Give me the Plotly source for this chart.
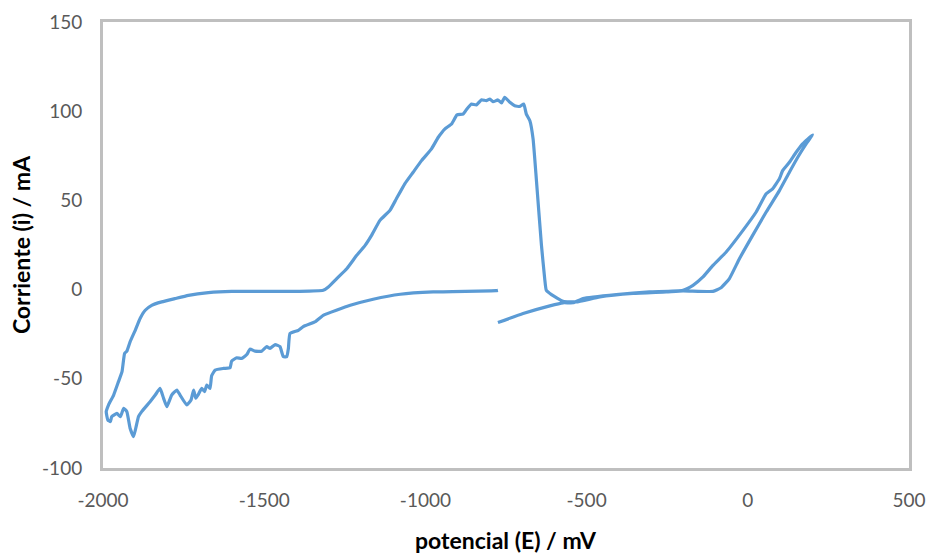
import plotly.graph_objects as go

# Cyclic voltammogram: potential (mV) and current (mA), traced in scan order
potential_mV = [
    -775, -781, -976, -1078, -1162, -1233, -1317, -1341, -1379, -1394, -1420,
    -1425, -1430, -1441, -1451, -1466, -1482, -1492, -1508, -1528, -1544, -1554,
    -1570, -1585, -1601, -1606, -1626, -1652, -1663, -1668, -1678, -1685, -1694,
    -1704, -1712, -1719, -1727, -1740, -1761, -1771, -1787, -1802, -1812, -1823,
    -1838, -1854, -1880, -1890, -1905, -1916, -1926, -1936, -1946, -1957, -1973,
    -1977, -1985, -1990,
    -1983, -1967, -1952, -1941, -1933, -1926, -1916, -1900, -1885, -1869, -1849,
    -1818, -1776, -1735, -1673, -1601, -1394, -1317, -1301, -1275, -1244, -1213,
    -1187, -1167, -1141, -1110, -1090, -1064, -1038, -1012, -981, -960, -940,
    -919, -902, -883, -873, -857, -842, -826, -811, -800, -790, -775, -764,
    -754, -738, -723, -707, -695, -687, -676, -666, -656, -640, -630, -625,
    -609, -573, -532, -459, -356, -253, -201, -108, -83, -57, -26, 15, 57, 98,
    129, 155, 181, 201,
    170, 150, 129, 108, 98, 77, 57, 26, -15, -67, -108, -139, -170, -201, -305,
    -408, -511, -542, -573, -614, -697, -775,
]
current_mA = [
    -0.4, -0.6, -1.3, -2.6, -5.4, -8.8, -14.4, -17.9, -20.7, -22.8, -24.6,
    -33.0, -37.6, -37.5, -32.0, -30.8, -33.0, -32.0, -34.5, -34.5, -33.4, -36.4,
    -38.6, -38.2, -40.1, -43.8, -44.2, -45.1, -48.3, -55.4, -53.5, -57.2, -55.4,
    -58.7, -60.9, -56.3, -61.9, -64.7, -59.1, -56.3, -59.1, -65.6, -61.0, -55.4,
    -59.1, -62.8, -68.4, -71.2, -82.4, -77.7, -68.4, -66.6, -71.2, -69.4, -71.2,
    -74.0, -73.1, -68.4,
    -64.7, -59.1, -51.6, -46.0, -35.8, -34.5, -29.3, -22.8, -16.2, -11.6, -8.8,
    -6.9, -5.0, -3.2, -1.7, -1.0, -1.0, -0.4, 1.5, 6.2, 11.7, 19.2,
    24.8, 30.4, 38.8, 44.4, 50.9, 59.3, 65.8, 72.3, 78.9, 85.4, 90.0,
    92.8, 97.9, 98.4, 100.8, 104.0, 103.5, 106.4, 105.9, 106.8, 105.3, 106.3, 104.6,
    107.8, 105.0, 103.1, 102.7, 104.0, 98.4, 94.7, 84.5, 62.1, 24.8, 6.2, -0.4,
    -2.8, -6.5, -6.9, -4.1, -2.2, -1.3, -0.7, -1.0, 1.0, 6.2, 17.3, 30.4, 43.5, 55.5,
    65.8, 74.2, 81.7, 86.7,
    81.7, 77.0, 71.4, 66.7, 62.1, 56.5, 53.7, 43.5, 33.2, 21.1, 13.6, 7.1, 2.4, -0.4, -1.3,
    -2.8, -5.0, -7.4, -7.4, -9.1, -13.4, -18.5,
]

x_ticks = [-2000, -1500, -1000, -500, 0, 500]
y_ticks = [-100, -50, 0, 50, 100, 150]
x_title = "potencial (E) / mV"
y_title = "Corriente (i) / mA"

fig = go.Figure()
fig.add_trace(go.Scatter(
    x=potential_mV, y=current_mA, mode="lines",
    line=dict(color="#5B9BD5", width=3.2, shape="spline", smoothing=0.4),
    showlegend=False, hoverinfo="x+y",
))

tick_font = dict(family="Lato, Open Sans, sans-serif", size=19, color="#595959")
title_font = dict(family="Lato, Open Sans, sans-serif", size=23, color="#000000")

fig.update_layout(
    width=930, height=553,
    margin=dict(l=103, r=21, t=22, b=85),
    paper_bgcolor="white", plot_bgcolor="white",
    xaxis=dict(
        range=[-2000, 500], tickvals=x_ticks, ticktext=[str(v) for v in x_ticks],
        showgrid=False, zeroline=False, showline=True, mirror=True,
        linecolor="#BFBFBF", linewidth=3, ticks="", tickfont=tick_font,
        ticklabelstandoff=13, automargin=False,
    ),
    yaxis=dict(
        range=[-100, 150], tickvals=y_ticks, ticktext=[str(v) for v in y_ticks],
        showgrid=False, zeroline=False, showline=True, mirror=True,
        linecolor="#BFBFBF", linewidth=3, ticks="", tickfont=tick_font,
        ticklabelstandoff=14, automargin=False,
        title=dict(text="<b>" + y_title + "</b>", font=title_font, standoff=6),
    ),
    annotations=[dict(
        text="<b>" + x_title + "</b>", font=title_font, showarrow=False,
        xref="paper", yref="paper", x=0.5, y=0, xanchor="center",
        yanchor="middle", yshift=-72,
    )],
)

fig.write_html("out.html")
